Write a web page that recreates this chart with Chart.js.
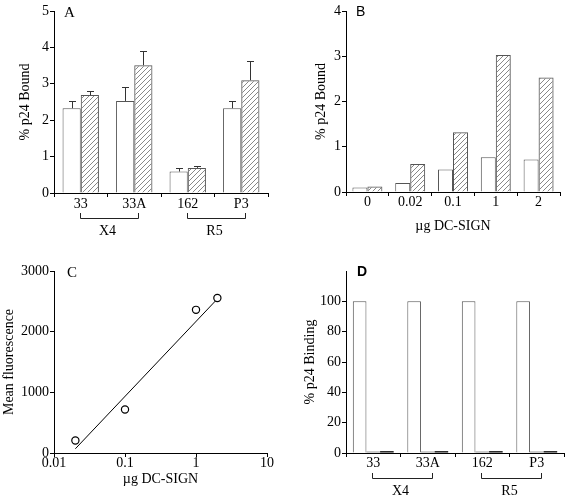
<!DOCTYPE html>
<html><head><meta charset="utf-8">
<script src="https://cdn.jsdelivr.net/npm/chart.js@4/dist/chart.umd.min.js"></script>
<style>
html,body{margin:0;padding:0;background:#fff;}
#wrap{position:relative;width:568px;height:499px;background:#fff;}
canvas{position:absolute;}
</style></head><body>
<div id="wrap">
<canvas id="cA" width="284" height="250" style="left:0;top:0"></canvas>
<canvas id="cB" width="284" height="250" style="left:284px;top:0"></canvas>
<canvas id="cC" width="284" height="249" style="left:0;top:250px"></canvas>
<canvas id="cD" width="284" height="249" style="left:284px;top:250px"></canvas>
</div>
<script>
// ---------- data ----------
const isolates = ['33', '33A', '162', 'P3'];
const groupNames = ['X4', 'R5'];
const groupSpans = [[0, 1], [2, 3]];

const boundA_white = [2.33, 2.53, 0.59, 2.33];
const boundA_hatch = [2.69, 3.51, 0.69, 3.10];
const errA_white = [0.20, 0.39, 0.11, 0.19];
const errA_hatch = [0.12, 0.39, 0.05, 0.52];

const doseLabelsB = ['0', '0.02', '0.1', '1', '2'];
const boundB_white = [0.10, 0.20, 0.50, 0.77, 0.72];
const boundB_hatch = [0.12, 0.62, 1.32, 3.03, 2.53];

const doseC = [0.02, 0.1, 1, 2];
const fluorC = [207, 716, 2360, 2555];
const fitDoseC = [0.02, 2];
const fitFluorC = [70, 2540];
const logTicksC = [0.01, 0.1, 1, 10];

const bindD_white = [100, 100, 100, 100];
const bindD_grey = [1, 1, 1, 1];
const bindD_black = [1.2, 1.2, 1.2, 1.2];

// ---------- helpers ----------
const SERIF = "'Liberation Serif','Times New Roman',serif";
const SANS = "'Liberation Sans',Arial,sans-serif";
const FONT = {family: SERIF, size: 14};
const BORDER = '#555';

function hatchPattern(ctx) {
  const c = document.createElement('canvas');
  c.width = 5; c.height = 5;
  const g = c.getContext('2d');
  g.strokeStyle = '#7a7a7a'; g.lineWidth = 0.9;
  g.beginPath();
  g.moveTo(0, 5); g.lineTo(5, 0);
  g.moveTo(-1, 1); g.lineTo(1, -1);
  g.moveTo(4, 6); g.lineTo(6, 4);
  g.stroke();
  return ctx.createPattern(c, 'repeat');
}

function letterPlugin(t, font, dx, dy) {
  return {id: 'letter', afterDraw(chart) {
    const c = chart.ctx; c.save();
    c.fillStyle = '#000'; c.font = font; c.textAlign = 'left'; c.textBaseline = 'middle';
    c.fillText(t, chart.chartArea.left + dx, chart.chartArea.top + dy);
    c.restore();
  }};
}

const bracketPlugin = {id: 'brackets', afterDraw(chart) {
  const x = chart.scales.x, b = chart.chartArea.bottom, c = chart.ctx;
  c.save(); c.strokeStyle = '#222'; c.lineWidth = 1; c.fillStyle = '#000';
  c.font = '14px ' + SERIF; c.textAlign = 'center'; c.textBaseline = 'middle';
  groupSpans.forEach((sp, i) => {
    const p0 = x.getPixelForValue(sp[0]), p1 = x.getPixelForValue(sp[1]);
    const x0 = Math.round(p0 - 1) + 0.5, x1 = Math.round(p1 + 4) + 0.5;
    const yT = b + 20, yB = Math.round(b + 25) + 0.5;
    c.beginPath(); c.moveTo(x0, yT); c.lineTo(x0, yB); c.lineTo(x1, yB); c.lineTo(x1, yT); c.stroke();
    c.fillText(groupNames[i], (p0 + p1) / 2, b + 38);
  });
  c.restore();
}};

function errPlugin(errs) {
  return {id: 'err', afterDatasetsDraw(chart) {
    const c = chart.ctx, y = chart.scales.y;
    c.save(); c.strokeStyle = '#333'; c.lineWidth = 1;
    errs.forEach((arr, di) => {
      if (!arr) return;
      const meta = chart.getDatasetMeta(di);
      meta.data.forEach((bar, i) => {
        const v = chart.data.datasets[di].data[i];
        const top = Math.round(y.getPixelForValue(v + arr[i])) + 0.5;
        const xc = Math.round(bar.x) + 0.5;
        c.beginPath(); c.moveTo(xc, bar.y); c.lineTo(xc, top);
        c.moveTo(xc - 3.5, top); c.lineTo(xc + 3.5, top); c.stroke();
      });
    });
    c.restore();
  }};
}

function axisY(o) {
  const s = {
    min: 0, max: o.max,
    ticks: {stepSize: o.step, color: '#000', font: FONT, padding: 1, callback: v => String(v)},
    grid: {display: true, drawOnChartArea: false, tickLength: 4, color: '#000', lineWidth: 1},
    border: {display: true, color: '#000', width: 1},
    title: {display: true, text: o.title, color: '#000', font: FONT, padding: {top: o.titlePad, bottom: 0}},
    afterFit: s => { s.width = o.width; }
  };
  if (o.filter) s.afterBuildTicks = o.filter;
  return s;
}
function axisXCat(o) {
  return {
    offset: true,
    grid: {display: true, offset: true, drawOnChartArea: false, tickLength: 4, color: '#000', lineWidth: 1},
    border: {display: true, color: '#000', width: 1},
    ticks: {color: '#000', font: FONT, padding: o.pad, maxRotation: 0, autoSkip: false},
    title: o.title ? {display: true, text: o.title, color: '#000', font: FONT, padding: {top: 0, bottom: o.titlePad}} : {display: false},
    afterFit: s => { s.height = o.height; }
  };
}
const baseOpts = {responsive: false, animation: false, devicePixelRatio: 1,
  plugins: {legend: {display: false}, tooltip: {enabled: false}}};

// ---------- Panel A ----------
const ctxA = document.getElementById('cA').getContext('2d');
new Chart(ctxA, {
  type: 'bar',
  data: {labels: isolates, datasets: [
    {data: boundA_white, backgroundColor: '#fff', borderColor: BORDER, borderWidth: 1, categoryPercentage: 0.68, barPercentage: 1},
    {data: boundA_hatch, backgroundColor: hatchPattern(ctxA), borderColor: BORDER, borderWidth: 1, categoryPercentage: 0.68, barPercentage: 1}
  ]},
  options: Object.assign({}, baseOpts, {
    layout: {padding: {left: 0, top: 11, right: 16, bottom: 0}},
    scales: {
      x: axisXCat({pad: -1, height: 57}),
      y: axisY({max: 5, step: 1, title: '% p24 Bound', titlePad: 17, width: 54})
    }
  }),
  plugins: [errPlugin([errA_white, errA_hatch]), bracketPlugin, letterPlugin('A', '15px ' + SERIF, 10, 2)]
});

// ---------- Panel B ----------
const ctxB = document.getElementById('cB').getContext('2d');
new Chart(ctxB, {
  type: 'bar',
  data: {labels: doseLabelsB, datasets: [
    {data: boundB_white, backgroundColor: '#fff', borderColor: BORDER, borderWidth: 1, categoryPercentage: 0.70, barPercentage: 1},
    {data: boundB_hatch, backgroundColor: hatchPattern(ctxB), borderColor: BORDER, borderWidth: 1, categoryPercentage: 0.70, barPercentage: 1}
  ]},
  options: Object.assign({}, baseOpts, {
    layout: {padding: {left: 0, top: 11, right: 8, bottom: 0}},
    scales: {
      x: axisXCat({pad: -2, height: 58, title: 'µg DC-SIGN', titlePad: 15}),
      y: axisY({max: 4, step: 1, title: '% p24 Bound', titlePad: 29, width: 62})
    }
  }),
  plugins: [letterPlugin('B', '14px ' + SANS, 10, 1)]
});

// ---------- Panel C ----------
const ctxC = document.getElementById('cC').getContext('2d');
new Chart(ctxC, {
  type: 'scatter',
  data: {datasets: [
    {data: doseC.map((d, i) => ({x: d, y: fluorC[i]})), showLine: false, pointRadius: 3.6,
     pointBackgroundColor: '#fff', pointBorderColor: '#000', pointBorderWidth: 1.2},
    {data: fitDoseC.map((d, i) => ({x: d, y: fitFluorC[i]})), showLine: true, pointRadius: 0,
     borderColor: '#000', borderWidth: 1}
  ]},
  options: Object.assign({}, baseOpts, {
    layout: {padding: {left: 0, top: 21, right: 17, bottom: 0}},
    scales: {
      x: {type: 'logarithmic', min: 0.01, max: 10,
        afterBuildTicks: s => { s.ticks = logTicksC.map(v => ({value: v, major: true})); },
        grid: {display: true, drawOnChartArea: false, tickLength: 4, color: '#000', lineWidth: 1},
        border: {display: true, color: '#000', width: 1},
        ticks: {color: '#000', font: FONT, padding: -2, maxRotation: 0, autoSkip: false, callback: v => String(v)},
        title: {display: true, text: 'µg DC-SIGN', color: '#000', font: FONT, padding: {top: 0, bottom: 11}},
        afterFit: s => { s.height = 46; }
      },
      y: axisY({max: 3000, step: 1000, title: 'Mean fluorescence', titlePad: 1, width: 54})
    }
  }),
  plugins: [letterPlugin('C', '15px ' + SERIF, 13, 2)]
});

// ---------- Panel D ----------
const ctxD = document.getElementById('cD').getContext('2d');
new Chart(ctxD, {
  type: 'bar',
  data: {labels: isolates, datasets: [
    {data: bindD_white, backgroundColor: '#fff', borderColor: BORDER, borderWidth: 1, categoryPercentage: 0.75, barPercentage: 1},
    {data: bindD_grey, backgroundColor: '#999', borderWidth: 0, categoryPercentage: 0.75, barPercentage: 1},
    {data: bindD_black, backgroundColor: '#000', borderWidth: 0, categoryPercentage: 0.75, barPercentage: 1}
  ]},
  options: Object.assign({}, baseOpts, {
    layout: {padding: {left: 0, top: 21, right: 4, bottom: 0}},
    scales: {
      x: axisXCat({pad: -2, height: 46}),
      y: axisY({max: 120, step: 20, title: '% p24 Binding', titlePad: 18, width: 62,
        filter: s => { s.ticks = s.ticks.filter(t => t.value <= 100); }})
    }
  }),
  plugins: [bracketPlugin, letterPlugin('D', 'bold 14px ' + SANS, 11, 1)]
});
</script>
</body></html>
